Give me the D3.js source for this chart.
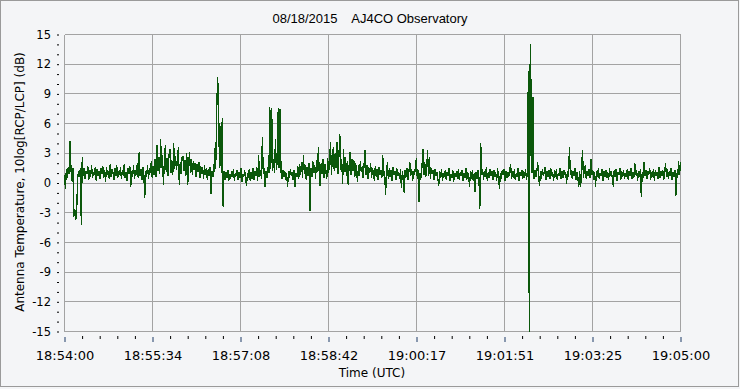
<!DOCTYPE html>
<html>
<head>
<meta charset="utf-8">
<script src="https://cdn.jsdelivr.net/npm/d3@7/dist/d3.min.js"></script>
<style>
body { margin:0; background:#f4f5f7; }
svg text { font-family: "DejaVu Sans", Verdana, sans-serif; fill:#000; }
</style>
</head>
<body>
<div id="chart-area"></div>
<script>
// RCP/LCP ratio, one sample per second from 18:54:00
var titleText = "08/18/2015    AJ4CO Observatory";
var xTitle = "Time (UTC)";
var yTitle = "Antenna Temperature, 10log[RCP/LCP] (dB)";
var sampleStep = 1; // seconds
var spanSeconds = 660;
var xTickLabels = ["18:54:00", "18:55:34", "18:57:08", "18:58:42", "19:00:17", "19:01:51", "19:03:25", "19:05:00"];
var yTickValues = [-15, -12, -9, -6, -3, 0, 3, 6, 9, 12, 15];

var ratioDb = [
	0.8, -0.6, 1.4, 0.5, 1.6, 0.9, 4.2, 1.3, 0.2, 1.5, -3.4, -2.6, -3.7, -3.1, 0.4, 1.2, 0.6, 1.5, -4.2, 2.6,
	0.7, 1.5, 0.4, 1.2, 0.9, 1.7, 0.3, 1.3, 0.6, 1.8, 0.5, 1.1, 0.8, 1.6, 0.2, 1.4, 0.7, 1.2, 0.4, 1.5,
	0.9, 1.7, 0.5, 1.3, 0.1, 1.6, 0.8, 1.2, 0.4, 1.9, 0.6, 1.4, 1.0, 0.3, 1.5, 0.7, 1.8, 0.5, 1.2, 0.8,
	1.6, 0.4, 1.3, 0.7, 1.9, 0.5, 1.1, 0.2, 1.5, 0.9, 1.7, -0.4, 1.2, 0.6, 1.8, 0.4, 1.3, 0.8, 2.0, 0.5,
	3.1, 0.7, 1.4, 0.3, 1.6, 0.9, -1.5, 1.2, 0.6, 1.8, 0.4, 1.5, 1.0, 2.2, 0.5, 1.7, 0.8, 2.4, 0.6, 3.8,
	1.2, 2.6, 0.9, 4.4, 1.5, 2.8, -0.25, 2.2, 3.8, 1.1, 2.5, 0.7, 2.9, 3.4, 1.0, 2.3, 0.8, 4.0, 1.4, 2.7,
	1.3, 2.4, 3.6, -0.25, 2.1, 0.9, 2.6, 2.7, 1.2, 2.3, 0.7, 3.0, -0.25, 1.9, 3.1, 1.0, 2.4, 0.8, 2.2, 1.3,
	2.0, 0.6, 1.9, 1.1, 2.1, 0.5, 1.7, 0.9, 1.6, 0.4, 1.8, 0.8, 1.5, 0.3, 1.4, 0.7, 1.6, -1.1, 1.2, 0.6,
	1.0, 3.5, 1.4, 7.0, 10.7, 9.0, 1.5, 5.8, 1.0, 6.6, -2.4, 1.2, 0.3, 1.1, 0.5, 1.3, 0.2, 0.9, 0.4, 1.2,
	0.6, 1.4, 0.2, 1.0, 0.7, 1.3, 0.3, 1.1, 0.5, 1.5, 0.1, 0.9, 0.6, 1.3, 0.4, -0.25, 1.0, 0.5, 1.4, 0.2,
	1.1, 0.4, 1.5, 0.3, 1.2, 0.7, 1.6, 0.2, 2.8, 0.6, 1.3, 0.4, 4.6, 0.9, 1.5, -0.4, 1.2, 0.5, 1.6, 1.0,
	7.7, 1.4, 7.6, 1.2, 2.4, 1.0, 4.4, 1.3, 2.2, 7.6, 1.5, 7.5, 1.1, 0.4, 1.3, 0.6, 1.2, 0.3, 1.0, -0.45,
	1.2, 0.5, 1.4, 0.7, 1.1, 0.3, 1.3, -0.35, 1.0, 0.6, 1.7, 0.4, 1.9, 0.8, 2.1, 0.5, 2.8, 0.9, 1.8, 0.3,
	1.6, 0.7, 2.0, -2.8, 1.5, 0.6, 2.2, 1.0, 1.8, 0.4, 2.3, 1.1, 3.6, 0.8, -0.35, 2.0, 0.9, 2.4, 0.5, 1.9,
	1.2, 0.4, 2.5, 1.0, 2.2, 4.1, 0.8, 2.6, 3.6, 1.2, 3.0, 1.5, 4.1, 0.9, 2.7, 4.9, 1.3, 2.4, -0.1, 3.4,
	1.1, 2.6, 0.7, 2.2, -0.25, 1.9, 3.1, 0.8, 2.4, 1.2, 2.3, 0.6, 2.0, 1.0, 0.1, 1.8, 0.7, 2.2, 1.1, 1.7,
	0.5, 1.9, 3.3, 0.8, 1.8, 0.4, 1.6, 1.0, 2.0, 0.5, 1.5, 0.9, 0.25, 1.7, 0.6, 1.4, 0.3, 1.6, 0.8, 1.3,
	0.5, 2.8, 0.7, 1.2, -1.2, 1.0, 2.1, 0.4, 1.5, 0.6, 1.3, 0.2, 1.6, 0.8, 1.2, 0.3, 1.5, 0.7, 1.1, 0.4,
	1.4, -0.55, 1.2, 0.5, -1.0, 1.3, 0.6, 1.5, 0.3, 1.1, 2.1, 0.7, 1.4, 0.2, 1.2, 0.8, 1.6, 2.5, 0.4, 1.3,
	-1.9, 1.0, 0.5, 1.6, 3.4, 0.8, 2.1, 0.6, 1.2, 3.3, 0.7, 2.6, 0.4, 1.5, 0.9, 1.3, 0.3, 1.4, 0.7, 1.1,
	0.4, -0.25, 1.2, 0.5, 1.4, 0.2, 1.0, 0.6, 1.3, 0.3, 1.1, 0.7, 1.5, 0.2, 0.9, 0.5, 1.3, 0.1, 1.0, 0.6,
	1.2, 0.4, 1.4, 0.3, 1.1, 0.7, 1.3, 0.2, 1.0, 0.5, 1.5, 0.3, 1.1, 0.6, -0.35, 1.2, 0.4, 1.3, 0.2, 1.0,
	-0.9, 1.1, 0.4, 1.3, 0.6, -2.6, 4.0, 0.8, 1.4, 0.3, 1.2, 0.6, 1.6, 0.2, 1.1, 0.5, 1.4, 0.7, 1.2, 0.3,
	1.3, 0.6, 1.1, 0.2, 1.5, 0.7, -0.6, 1.0, 0.4, 1.3, 0.8, 1.4, 0.2, 1.2, 0.5, 1.1, 0.6, 1.3, 1.9, 0.4,
	1.2, 0.5, 1.4, 0.3, 1.0, 0.6, 1.5, 0.2, 1.1, 0.7, 1.3, 0.4, 1.2, 0.5, 1.4, 0.3, 1.0, 11.3, -15.0, 14.0,
	8.8, 1.0, 8.7, 0.4, 1.3, 0.6, 1.1, 2.1, 0.5, -0.25, 1.2, 0.4, 1.4, 0.7, 1.1, 1.6, 0.3, 1.2, 0.6, 1.3,
	0.4, 1.5, 0.7, 1.1, 0.2, 1.3, 0.6, 1.4, 0.3, 1.0, 0.7, 1.5, 0.4, 1.2, 0.5, 1.3, 0.8, 1.1, -0.05, 1.2,
	0.6, 3.6, 0.8, 1.3, 0.4, 1.2, 0.7, 1.5, 0.3, 1.1, 0.6, -0.4, 1.2, -0.45, 1.4, 3.3, 0.5, 1.3, 1.8, 0.4,
	1.2, 0.7, 1.4, 0.5, 2.4, 0.8, 1.3, 0.3, 1.1, -0.35, 1.2, 0.6, 1.5, 0.4, 1.0, 0.7, 1.4, 0.2, 1.2, 0.6,
	1.3, 0.5, 1.1, 0.3, 1.5, 0.7, 1.2, 0.4, -0.35, 1.3, 0.6, 1.4, 0.2, 1.1, 0.8, 1.5, 0.3, 1.2, 0.6, 1.3,
	0.4, 1.0, 0.6, 1.4, 0.3, 1.2, 0.7, 1.5, 0.4, 1.1, 0.5, 2.0, 0.8, 1.3, 0.2, 1.2, 0.6, 1.4, -1.4, 1.1,
	0.5, 2.1, 0.7, 1.3, 0.4, 1.2, 0.8, 1.5, 0.3, 1.1, 0.6, 1.4, 0.2, 1.3, 0.7, 1.1, 0.4, 1.6, 0.5, 1.2,
	0.7, 1.3, 0.3, 1.0, 2.0, 0.6, 1.4, 0.4, 1.2, 0.7, 1.5, 0.3, 1.1, 0.6, 1.3, -1.3, 1.0, 0.5, 2.2, 0.8,
	2.1
];

var W = 740, H = 389;
var plot = {left:64, right:680, top:34, bottom:331};

var svg = d3.select("#chart-area")
	.append("svg")
		.attr("width", W)
		.attr("height", H);

// outer frame
svg.append("rect")
	.attr("x", 0.5).attr("y", 0.5)
	.attr("width", W - 2).attr("height", H - 3)
	.attr("fill", "#f4f5f7")
	.attr("stroke", "#9a9a9a");

//Scales
var xScale = d3.scaleLinear()
		.domain([0, spanSeconds])
		.range([plot.left + 0.5, plot.right + 0.5]);

var yScale = d3.scaleLinear()
		.domain([-15, 15])
		.range([plot.bottom + 0.5, plot.top + 0.5]);

var majorX = d3.range(xTickLabels.length).map(function(k){ return k * spanSeconds / 7; });
var minorX = d3.range(36).filter(function(k){ return k % 5 != 0; })
		.map(function(k){ return k * spanSeconds / 35; });
var minorY = d3.range(-15, 16).filter(function(v){ return v % 3 != 0; });

//grid
var grid = svg.append("g").attr("shape-rendering", "crispEdges");
grid.selectAll("line.gx")
	.data(majorX)
	.enter().append("line")
		.attr("x1", function(d){ return Math.round(xScale(d) - 0.5) + 0.5; })
		.attr("x2", function(d){ return Math.round(xScale(d) - 0.5) + 0.5; })
		.attr("y1", yScale(-15)).attr("y2", yScale(15))
		.attr("stroke", "#a3a3a3");
grid.selectAll("line.gy")
	.data(yTickValues)
	.enter().append("line")
		.attr("x1", xScale(0)).attr("x2", xScale(spanSeconds))
		.attr("y1", function(d){ return Math.round(yScale(d) - 0.5) + 0.5; })
		.attr("y2", function(d){ return Math.round(yScale(d) - 0.5) + 0.5; })
		.attr("stroke", "#a3a3a3");

//data line
svg.append("clipPath").attr("id", "clip")
	.append("rect")
		.attr("x", plot.left).attr("y", plot.top)
		.attr("width", plot.right - plot.left + 1)
		.attr("height", plot.bottom - plot.top + 1);

var line = d3.line()
		.x(function(d, i){ return xScale(i * sampleStep); })
		.y(function(d){ return yScale(d); });

svg.append("path")
	.datum(ratioDb)
	.attr("clip-path", "url(#clip)")
	.attr("fill", "none")
	.attr("stroke", "#0b580b")
	.attr("stroke-width", 1.3)
	.attr("stroke-linejoin", "bevel")
	.attr("shape-rendering", "crispEdges")
	.attr("d", line);

//y axis
var yAxisCall = d3.axisLeft(yScale)
		.tickValues(yTickValues)
		.tickSize(2)
		.tickPadding(6)
		.tickFormat(function(d){ return d; });
var yAxis = svg.append("g")
	.attr("transform", "translate(59,0)")
	.call(yAxisCall);
yAxis.select(".domain").remove();
yAxis.selectAll("text").attr("font-size", "11.5px").attr("font-family", "DejaVu Sans");

svg.append("g")
	.attr("transform", "translate(59,0)")
	.call(d3.axisLeft(yScale).tickValues(minorY).tickSize(2).tickFormat(""))
	.select(".domain").remove();

//x axis
var xAxisCall = d3.axisBottom(xScale)
		.tickValues(majorX)
		.tickSize(5)
		.tickPadding(9)
		.tickFormat(function(d, i){ return xTickLabels[i]; });
var xAxis = svg.append("g")
	.attr("transform", "translate(0,337)")
	.call(xAxisCall);
xAxis.select(".domain").remove();
xAxis.selectAll("line").attr("stroke", "#1d3a66");
xAxis.selectAll("text").attr("font-size", "13px").attr("font-family", "DejaVu Sans");

svg.append("g")
	.attr("transform", "translate(0,336)")
	.call(d3.axisBottom(xScale).tickValues(minorX).tickSize(3).tickFormat(""))
	.select(".domain").remove();

//Labels
svg.append("text")
	.attr("x", 370)
	.attr("y", 23)
	.attr("font-size", "13px")
	.style("font-family", "'Liberation Sans', Arial, sans-serif")
	.style("white-space", "pre")
	.attr("text-anchor", "middle")
	.text(titleText);

svg.append("text")
	.attr("x", 372)
	.attr("y", 377)
	.attr("font-size", "12px")
	.attr("text-anchor", "middle")
	.text(xTitle);

svg.append("text")
	.attr("transform", "translate(24,182) rotate(-90)")
	.attr("font-size", "12px")
	.attr("text-anchor", "middle")
	.text(yTitle);
</script>
</body>
</html>
